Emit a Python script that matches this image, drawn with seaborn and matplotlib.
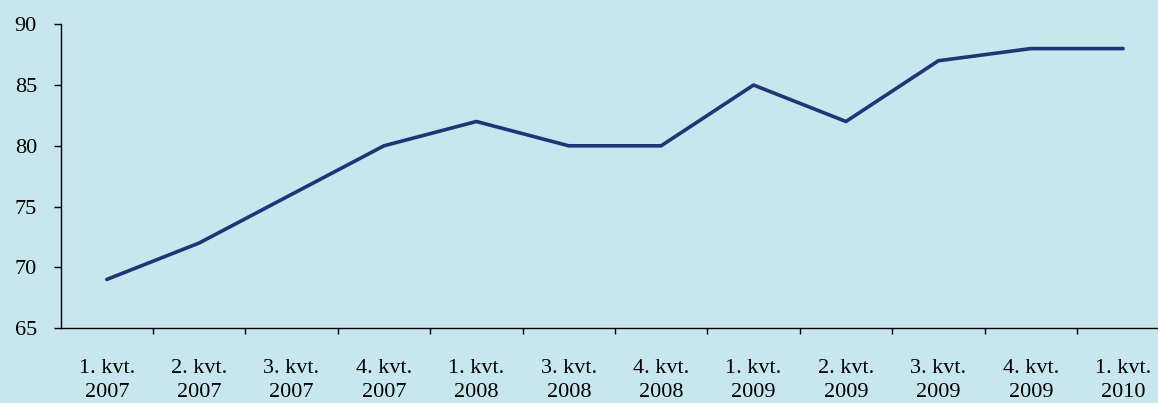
import numpy as np
import pandas as pd
import matplotlib
matplotlib.use("Agg")
import matplotlib.pyplot as plt
import seaborn as sns

categories = ["1. kvt.\n2007", "2. kvt.\n2007", "3. kvt.\n2007", "4. kvt.\n2007",
              "1. kvt.\n2008", "3. kvt.\n2008", "4. kvt.\n2008", "1. kvt.\n2009",
              "2. kvt.\n2009", "3. kvt.\n2009", "4. kvt.\n2009", "1. kvt.\n2010"]
values = [69, 72, 76, 80, 82, 80, 80, 85, 82, 87, 88, 88]
y_ticks = [65, 70, 75, 80, 85, 90]

sns.set_style("white")
plt.rcParams["font.family"] = ["Liberation Serif", "DejaVu Serif"]

bg = "#C8E6EE"
fig = plt.figure(figsize=(11.58, 4.03), dpi=100, facecolor=bg)
ax = fig.add_axes([0.0523, 0.186, 0.9575, 0.7537])
ax.set_facecolor(bg)

df = pd.DataFrame({"pos": np.arange(len(categories)), "val": values})
sns.lineplot(data=df, x="pos", y="val", ax=ax, color="#1F3575", linewidth=2.6)

ax.set_xlim(-0.5, len(categories) - 0.5)
ax.set_ylim(65, 90)
ax.set_yticks(y_ticks)
ax.set_xticks(np.arange(len(categories)))
ax.set_xticklabels(categories, linespacing=1.4)
ax.set_xticks(np.arange(len(categories)) + 0.5, minor=True)
ax.tick_params(axis="x", which="major", bottom=True, length=0, pad=22, labelsize=16,
               labelcolor="black")
ax.tick_params(axis="x", which="minor", bottom=True, length=4, width=1.0,
               direction="out", color="black")
ax.tick_params(axis="y", left=True, length=5, width=1.0, direction="out", color="black",
               labelsize=16, pad=12, labelcolor="black")
ax.set_xlabel("")
ax.set_ylabel("")

for s in ["top", "right"]:
    ax.spines[s].set_visible(False)
for s in ["left", "bottom"]:
    ax.spines[s].set_color("black")
    ax.spines[s].set_linewidth(1.0)

fig.savefig("out.png", dpi=100, facecolor=bg)
